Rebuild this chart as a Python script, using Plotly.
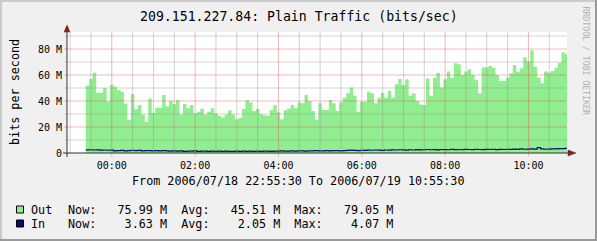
import pandas as pd
import plotly.graph_objects as go

# ---------------- data ----------------
title_text = "209.151.227.84: Plain Traffic (bits/sec)"
y_title = "bits per second"
period_text = "From 2006/07/18 22:55:30 To 2006/07/19 10:55:30"
watermark = "RRDTOOL / TOBI OETIKER"

range_start = "2006-07-18 22:55:30"
range_end = "2006-07-19 10:55:30"
sample_start = "2006-07-18 23:22:30"
sample_step = "5min"

# Out traffic, Mbit/s (one value per 5-minute sample)
out_mbps = [
    52.0, 57.0, 61.8, 46.4, 46.4, 50.0, 39.5, 52.5, 51.0, 48.5,
    47.0, 38.0, 25.4, 45.4, 33.6, 36.9, 29.7, 24.0, 42.0, 31.0,
    34.9, 34.9, 44.6, 36.0, 40.0, 37.7, 40.5, 29.7, 37.7, 34.4,
    36.9, 30.5, 31.8, 34.0, 29.7, 31.8, 34.4, 30.5, 28.7, 27.4,
    29.7, 32.8, 29.7, 25.9, 27.2, 33.9, 40.5, 38.9, 32.3, 33.8,
    30.0, 29.0, 28.5, 33.0, 36.9, 31.3, 25.9, 32.8, 34.0, 37.0,
    34.4, 38.9, 38.2, 44.6, 40.0, 32.3, 25.4, 38.2, 33.1, 33.1,
    40.8, 38.2, 32.3, 38.9, 42.5, 45.9, 50.3, 44.0, 31.8, 39.5,
    39.5, 47.2, 45.9, 38.2, 42.5, 46.4, 42.5, 47.7, 42.5, 52.8,
    56.9, 52.3, 56.7, 44.1, 46.0, 40.0, 37.4, 36.9, 57.4, 44.1,
    57.9, 61.8, 50.3, 56.8, 62.6, 57.9, 69.0, 68.2, 60.0, 62.6,
    64.4, 60.0, 56.1, 45.9, 65.8, 65.8, 67.0, 65.6, 60.0, 55.4,
    55.4, 57.9, 61.3, 67.7, 62.3, 65.1, 73.6, 70.3, 79.05, 66.4,
    58.0, 53.6, 62.6, 61.8, 63.0, 65.6, 69.5, 77.4, 75.99,
]

# In traffic, Mbit/s
in_mbps = [
    2.4, 2.5, 2.3, 2.4, 2.2, 2.3, 2.1, 2.2, 1.6, 1.9,
    2.0, 1.7, 1.9, 2.1, 1.8, 2.0, 1.7, 1.9, 1.8, 1.6,
    1.8, 1.7, 1.9, 1.6, 1.5, 1.7, 1.4, 1.6, 1.3, 1.5,
    1.4, 1.6, 1.3, 1.5, 1.4, 1.2, 1.4, 1.3, 1.5, 1.2,
    1.4, 1.3, 1.2, 1.4, 1.3, 1.5, 1.3, 1.4, 1.2, 1.4,
    1.3, 1.5, 1.4, 1.3, 1.5, 1.4, 1.6, 1.5, 1.4, 1.6,
    1.5, 1.7, 1.6, 1.5, 1.7, 1.6, 1.8, 1.7, 1.6, 1.8,
    1.7, 1.9, 1.8, 1.7, 1.9, 2.0, 2.2, 2.0, 1.9, 2.1,
    2.0, 2.2, 2.1, 2.3, 2.2, 2.0, 2.3, 2.2, 2.4, 2.3,
    2.5, 2.4, 2.2, 2.5, 2.3, 2.6, 2.4, 2.5, 2.7, 2.5,
    2.6, 2.4, 2.7, 2.6, 2.5, 2.8, 2.6, 2.7, 2.5, 2.8,
    2.7, 2.6, 2.9, 2.7, 2.6, 2.8, 2.7, 2.9, 2.6, 2.8,
    2.7, 2.9, 2.8, 3.0, 2.8, 3.1, 2.9, 3.0, 3.2, 3.0,
    4.07, 3.1, 2.9, 3.0, 3.2, 3.1, 3.3, 3.4, 3.63,
]

y_tick_vals = [0, 20, 40, 60, 80]
y_tick_text = ["0", "20 M", "40 M", "60 M", "80 M"]
y_minor_vals = [10, 30, 50, 70, 90]
y_max = 93.08

x_tick_vals = ["2006-07-19 00:00", "2006-07-19 02:00", "2006-07-19 04:00",
               "2006-07-19 06:00", "2006-07-19 08:00", "2006-07-19 10:00"]
x_tick_text = ["00:00", "02:00", "04:00", "06:00", "08:00", "10:00"]
x_grid_first = "2006-07-18 23:00"
x_grid_last = "2006-07-19 10:30"

series_names = ["Out", "In"]
series_colors = ["#90EE90", "#0A0A6E"]
now_vals = ["75.99 M", "3.63 M"]
avg_vals = ["45.51 M", "2.05 M"]
max_vals = ["79.05 M", "4.07 M"]

# ---------------- layout geometry ----------------
W, H = 597, 241
L, R, T, B = 67, 30, 32, 88
PW, PH = W - L - R, H - T - B

def px(x):
    return (x - L) / PW

def py(y):
    return (T + PH - y) / PH

MONO = "DejaVu Sans Mono"
BG = "#F0F0F0"
GRID_MINOR = "rgba(144,144,144,0.4)"
GRID_MAJOR = "rgba(224,80,80,0.4)"
AXIS_COL = "#303030"
ARROW_COL = "#802020"

times = list(pd.date_range(sample_start, periods=len(out_mbps), freq=sample_step))
times_ext = times + [times[-1] + pd.Timedelta(sample_step)]
out_ext = out_mbps + [out_mbps[-1]]
in_ext = in_mbps + [in_mbps[-1]]

fig = go.Figure()
fig.add_trace(go.Scatter(
    x=times_ext, y=out_ext, mode="lines",
    line=dict(width=0, shape="hv", color=series_colors[0]),
    fill="tozeroy", fillcolor=series_colors[0], hoverinfo="skip",
))
fig.add_trace(go.Scatter(
    x=times_ext, y=in_ext, mode="lines",
    line=dict(width=1.2, shape="hv", color=series_colors[1]),
    hoverinfo="skip",
))

shapes = []
# grid (drawn above the area like rrdtool)
grid_times = pd.date_range(x_grid_first, x_grid_last, freq="30min")
for t in grid_times:
    major = (t.minute == 0 and t.hour % 2 == 0)
    shapes.append(dict(
        type="line", xref="x", yref="paper", x0=t, x1=t,
        y0=py(156.5) if major else 0, y1=1,
        line=dict(color=GRID_MAJOR if major else GRID_MINOR, width=1),
        layer="above"))
for v in y_minor_vals:
    shapes.append(dict(type="line", xref="paper", yref="y", x0=px(65), x1=1, y0=v, y1=v,
                       line=dict(color=GRID_MINOR, width=1), layer="above"))
for v in y_tick_vals[1:]:
    shapes.append(dict(type="line", xref="paper", yref="y", x0=px(64), x1=1, y0=v, y1=v,
                       line=dict(color=GRID_MAJOR, width=1), layer="above"))

# axes lines
shapes.append(dict(type="line", xref="paper", yref="paper", x0=px(63), x1=px(570),
                   y0=0, y1=0, line=dict(color=AXIS_COL, width=1), layer="above"))
shapes.append(dict(type="line", xref="paper", yref="paper", x0=0, x1=0,
                   y0=py(157), y1=py(30), line=dict(color=AXIS_COL, width=1), layer="above"))
# arrows
shapes.append(dict(type="path", xref="paper", yref="paper",
                   path=f"M {px(568)},{py(150)} L {px(576)},{py(153)} L {px(568)},{py(156)} Z",
                   fillcolor=ARROW_COL, line=dict(color=ARROW_COL, width=0.5), layer="above"))
shapes.append(dict(type="path", xref="paper", yref="paper",
                   path=f"M {px(64)},{py(32)} L {px(67)},{py(25)} L {px(70)},{py(32)} Z",
                   fillcolor=ARROW_COL, line=dict(color=ARROW_COL, width=0.5), layer="above"))

# frame shading
shapes.append(dict(type="rect", xref="paper", yref="paper", x0=px(0), x1=px(W), y0=py(2), y1=py(0),
                   fillcolor="#CBCBCB", line=dict(width=0), layer="above"))
shapes.append(dict(type="rect", xref="paper", yref="paper", x0=px(0), x1=px(2), y0=py(H), y1=py(0),
                   fillcolor="#CBCBCB", line=dict(width=0), layer="above"))
shapes.append(dict(type="rect", xref="paper", yref="paper", x0=px(0), x1=px(W), y0=py(H), y1=py(H - 2),
                   fillcolor="#999999", line=dict(width=0), layer="above"))
shapes.append(dict(type="rect", xref="paper", yref="paper", x0=px(W - 2), x1=px(W), y0=py(H), y1=py(0),
                   fillcolor="#999999", line=dict(width=0), layer="above"))

annotations = []

def text(x, y, s, size=11.75, xanchor="center", angle=0, color="#000000"):
    annotations.append(dict(
        x=px(x), y=py(y), xref="paper", yref="paper", text=s, showarrow=False,
        xanchor=xanchor, yanchor="middle", textangle=angle,
        font=dict(family=MONO, size=size, color=color),
        borderpad=0, borderwidth=0))

text(299, 17, title_text, size=13.2)
text(15, 92, y_title, angle=-90)
text(298.3, 181, period_text)
text(585.5, 61, watermark, size=8.2, angle=90, color="#B0B0B0")

row_y = [209.5, 223.5]
NB = "\u00a0"
for i, name in enumerate(series_names):
    yy = row_y[i]
    shapes.append(dict(type="rect", xref="paper", yref="paper",
                       x0=px(16.5), x1=px(23.5), y0=py(yy + 3.5), y1=py(yy - 3.5),
                       fillcolor=series_colors[i], line=dict(color="#000000", width=1),
                       layer="above"))
    text(30.5, yy, name, xanchor="left")
    stats = ("Now:" + NB * 3 + now_vals[i].rjust(7, NB) + NB * 2 +
             "Avg:" + NB * 3 + avg_vals[i].rjust(7, NB) + NB * 2 +
             "Max:" + NB * 3 + max_vals[i].rjust(7, NB))
    text(67.7, yy, stats, xanchor="left")

fig.update_layout(
    width=W, height=H,
    margin=dict(l=L, r=R, t=T, b=B, pad=0),
    paper_bgcolor=BG, plot_bgcolor="#FFFFFF",
    showlegend=False,
    shapes=shapes, annotations=annotations,
    xaxis=dict(type="date", range=[range_start, range_end], showgrid=False, zeroline=False,
               showline=False, ticks="", tickvals=x_tick_vals, ticktext=x_tick_text,
               ticklabelstandoff=5,
               tickfont=dict(family=MONO, size=10, color="#000000"), fixedrange=True),
    yaxis=dict(range=[0, y_max], showgrid=False, zeroline=False, showline=False, ticks="",
               tickvals=y_tick_vals, ticktext=y_tick_text, ticklabelstandoff=4,
               tickfont=dict(family=MONO, size=10, color="#000000"), fixedrange=True),
)

fig.write_html("out.html", config={"displayModeBar": False})
